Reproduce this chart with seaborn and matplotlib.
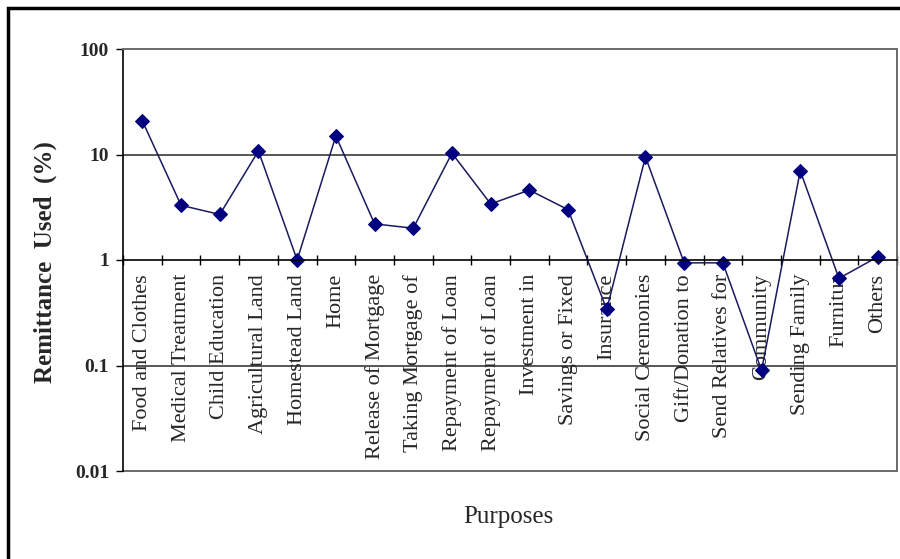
import numpy as np
import pandas as pd
import seaborn as sns
import matplotlib
matplotlib.use("Agg")
import matplotlib.pyplot as plt
from matplotlib.patches import Rectangle
from matplotlib.ticker import FixedLocator, NullFormatter

# Purposes for which remittances were used
purposes = [
    "Food and Clothes", "Medical Treatment", "Child Education",
    "Agricultural Land", "Homestead Land", "Home", "Release of Mortgage",
    "Taking Mortgage of", "Repayment of Loan", "Repayment of Loan",
    "Investment in", "Savings or Fixed", "Insurance", "Social Ceremonies",
    "Gift/Donation to", "Send Relatives for", "Community", "Sending Family",
    "Furnitur", "Others",
]
# Share of remittance used (%)
share = [
    20.8, 3.3, 2.7, 10.8, 1.0, 15.0, 2.2, 2.0, 10.3, 3.4,
    4.6, 3.0, 0.34, 9.5, 0.94, 0.94, 0.09, 7.0, 0.67, 1.07,
]
y_ticks = [0.01, 0.1, 1, 10, 100]
y_tick_labels = ["0.01", "0.1", "1", "10", "100"]

sns.set_theme(style="white")
plt.rcParams["font.family"] = ["Liberation Serif", "DejaVu Serif"]

W, H = 900, 559
fig = plt.figure(figsize=(W / 100, H / 100), dpi=100)
ax = fig.add_axes([123 / W, 88 / H, 774 / W, 422 / H])

df = pd.DataFrame({"pos": np.arange(len(purposes)), "share": share})
sns.lineplot(
    data=df, x="pos", y="share", ax=ax,
    color="#1a1a5e", linewidth=1.1,
    marker="D", markersize=7, markerfacecolor="#000080",
    markeredgecolor="#000080",
)

ax.set_yscale("log")
ax.set_ylim(0.01, 100)
ax.set_xlim(-0.5, len(purposes) - 0.5)

# horizontal gridlines at the decades
for v in [0.1, 10]:
    ax.axhline(v, color="#3a3a3a", linewidth=1.2, zorder=0)
ax.axhline(0.01, color="#6a6a6a", linewidth=1.4, clip_on=False, zorder=0)

# y axis
ax.yaxis.set_major_locator(FixedLocator(y_ticks))
ax.yaxis.set_minor_locator(FixedLocator([]))
ax.set_yticklabels(y_tick_labels, fontsize=14, fontweight="bold")
ax.tick_params(axis="y", which="major", direction="out", length=5,
               width=1, color="black", pad=5, left=True)

# category axis crosses at 1
ax.spines["bottom"].set_position(("data", 1))
ax.spines["bottom"].set_color("black")
ax.spines["bottom"].set_linewidth(1.2)
ax.spines["left"].set_color("black")
ax.spines["left"].set_linewidth(1.2)
for s in ["top", "right"]:
    ax.spines[s].set_color("#6a6a6a")
    ax.spines[s].set_linewidth(1.4)

ax.set_xticks(np.arange(len(purposes)))
ax.set_xticklabels(purposes, rotation=90, fontsize=16, va="top", ha="center")
ax.xaxis.set_minor_locator(FixedLocator(np.arange(-0.5, len(purposes), 1.0)))
ax.xaxis.set_minor_formatter(NullFormatter())
ax.tick_params(axis="x", which="major", length=0, pad=10, bottom=True)
ax.tick_params(axis="x", which="minor", direction="inout", length=7,
               width=1, color="black", bottom=True)

ax.set_xlabel("")
ax.set_ylabel("")

fig.text(45 / W, 1 - 262 / H, "Remittance  Used  (%)", rotation=90,
         ha="center", va="center", fontsize=18, fontweight="bold")
fig.text(508 / W, 1 - 517 / H, "Purposes", ha="center", va="center",
         fontsize=18)

# chart frame
fig.add_artist(Rectangle((8 / W, -0.05), 1.2, 1 - 8 / H + 0.05,
                         transform=fig.transFigure, fill=False,
                         edgecolor="black", linewidth=2.5))

fig.savefig("out.png", dpi=100)
